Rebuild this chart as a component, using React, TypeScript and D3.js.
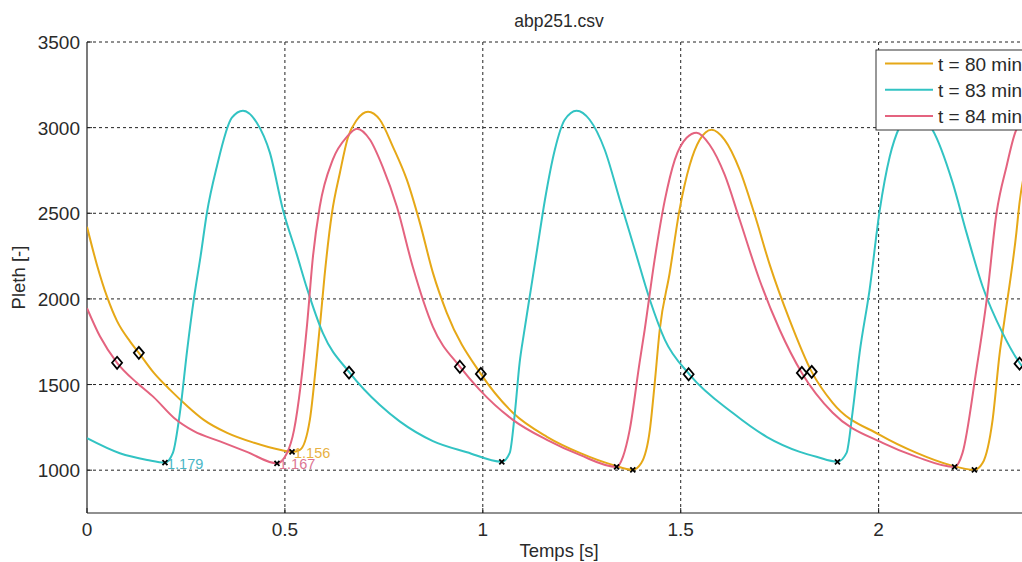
import React from 'react';
import * as d3 from 'd3';

const W = 1022;
const H = 562;
const title = 'abp251.csv';
const xLabel = 'Temps [s]';
const yLabel = 'Pleth [-]';
const xTicks = [0, 0.5, 1, 1.5, 2];
const yTicks = [1000, 1500, 2000, 2500, 3000, 3500];
const seriesNames = ['t = 80 min', 't = 83 min', 't = 84 min'];
const seriesColors = ['#e6a817', '#32c3c3', '#e4637f'];
const labelColors = ['#e8b143', '#4ab6c6', '#dd7592'];

// t = 80 min
const t80 = [0, 0.025, 0.051, 0.076, 0.109, 0.131, 0.169, 0.21, 0.253, 0.295, 0.354, 0.422, 0.487, 0.518, 0.538, 0.563, 0.578, 0.59, 0.6, 0.619, 0.639, 0.659, 0.682, 0.71, 0.74, 0.773, 0.808, 0.841, 0.874, 0.909, 0.995, 1.076, 1.162, 1.245, 1.328, 1.379, 1.4, 1.422, 1.434, 1.447, 1.472, 1.497, 1.523, 1.548, 1.578, 1.611, 1.649, 1.687, 1.725, 1.775, 1.831, 1.884, 2.003, 2.096, 2.179, 2.242, 2.263, 2.288, 2.306, 2.318, 2.348, 2.356, 2.375];
const v80 = [2421, 2200, 2010, 1870, 1751, 1685, 1568, 1469, 1375, 1294, 1218, 1160, 1119, 1107, 1119, 1294, 1600, 1880, 2130, 2503, 2737, 2941, 3046, 3093, 3046, 2888, 2696, 2444, 2152, 1919, 1562, 1335, 1195, 1101, 1031, 1002, 1040, 1234, 1500, 1820, 2150, 2520, 2783, 2929, 2988, 2929, 2754, 2491, 2199, 1878, 1574, 1393, 1206, 1101, 1031, 1002, 1043, 1294, 1685, 1878, 2386, 2561, 2800];

// t = 83 min
const t83 = [0, 0.083, 0.152, 0.197, 0.217, 0.235, 0.253, 0.27, 0.287, 0.303, 0.328, 0.366, 0.394, 0.429, 0.462, 0.495, 0.53, 0.556, 0.596, 0.664, 0.74, 0.79, 0.874, 0.96, 1.048, 1.068, 1.081, 1.093, 1.104, 1.121, 1.138, 1.157, 1.182, 1.207, 1.237, 1.27, 1.308, 1.346, 1.384, 1.422, 1.46, 1.523, 1.631, 1.717, 1.801, 1.843, 1.896, 1.919, 1.934, 1.952, 1.977, 2.003, 2.028, 2.053, 2.083, 2.136, 2.187, 2.222, 2.263, 2.313, 2.356, 2.381];
const v83 = [1187, 1099, 1060, 1044, 1101, 1340, 1700, 2000, 2250, 2503, 2772, 3058, 3099, 3029, 2854, 2521, 2260, 2060, 1800, 1568, 1380, 1285, 1170, 1105, 1049, 1101, 1335, 1627, 1800, 2050, 2300, 2579, 2871, 3046, 3099, 3046, 2871, 2579, 2287, 1995, 1761, 1557, 1335, 1195, 1107, 1078, 1049, 1101, 1335, 1685, 2050, 2521, 2830, 3005, 3093, 2988, 2679, 2387, 2071, 1802, 1627, 1557];

// t = 84 min
const t84 = [0, 0.033, 0.076, 0.126, 0.169, 0.22, 0.27, 0.336, 0.404, 0.48, 0.505, 0.523, 0.54, 0.556, 0.571, 0.588, 0.621, 0.657, 0.682, 0.715, 0.747, 0.783, 0.823, 0.874, 0.942, 0.992, 1.076, 1.162, 1.245, 1.338, 1.354, 1.371, 1.396, 1.409, 1.434, 1.46, 1.485, 1.515, 1.54, 1.573, 1.611, 1.649, 1.699, 1.75, 1.806, 1.884, 2.01, 2.096, 2.192, 2.212, 2.247, 2.273, 2.298, 2.323, 2.348, 2.37];
const v84 = [1946, 1780, 1627, 1510, 1425, 1305, 1228, 1168, 1107, 1040, 1099, 1234, 1500, 1850, 2250, 2538, 2813, 2947, 2994, 2929, 2771, 2538, 2188, 1837, 1604, 1469, 1294, 1177, 1089, 1019, 1078, 1234, 1627, 1820, 2228, 2578, 2812, 2941, 2970, 2900, 2725, 2462, 2112, 1820, 1568, 1335, 1159, 1078, 1019, 1101, 1586, 1995, 2503, 2772, 2988, 3040];

// diamond markers
const diamondT = [[0.131, 0.995, 1.831], [0.662, 1.52, 2.356], [0.076, 0.942, 1.806]];
const diamondV = [[1685, 1562, 1574], [1570, 1560, 1622], [1627, 1604, 1568]];
// foot (minimum) markers
const footT = [[0.518, 1.379, 2.242], [0.197, 1.048, 1.896], [0.48, 1.338, 2.192]];
const footV = [[1107, 1002, 1002], [1044, 1049, 1049], [1040, 1019, 1019]];
const footLabels = ['1.156', '1.179', '1.167'];

const seriesT = [t80, t83, t84];
const seriesV = [v80, v83, v84];

const FONT = '"Liberation Sans", Arial, Helvetica, sans-serif';

export default function App() {
  const left = 87, top = 42, right = 1031, bottom = 513;
  const x = d3.scaleLinear().domain([0, 2.385]).range([left, right]);
  const y = d3.scaleLinear().domain([750, 3500]).range([bottom, top]);
  const line = d3.line<[number, number]>()
    .x(d => x(d[0]))
    .y(d => y(d[1]))
    .curve(d3.curveMonotoneX);

  const drawOrder = [0, 1, 2];

  return (
    <svg width={W} height={H} style={{ position: 'absolute', left: 0, top: 0, background: '#fff' }} fontFamily={FONT}>
      <defs>
        <clipPath id="plotClip">
          <rect x={left} y={top} width={right - left} height={bottom - top} />
        </clipPath>
      </defs>
      <rect x={0} y={0} width={W} height={H} fill="#fff" />
      {/* grid */}
      {yTicks.map(v => (
        <line key={'gy' + v} x1={left} x2={right} y1={y(v)} y2={y(v)} stroke="#222" strokeWidth={1} strokeDasharray="3 3" />
      ))}
      {xTicks.filter(v => v > 0).map(v => (
        <line key={'gx' + v} x1={x(v)} x2={x(v)} y1={top} y2={bottom} stroke="#222" strokeWidth={1} strokeDasharray="3 3" />
      ))}
      {/* axes */}
      <line x1={left} x2={left} y1={top} y2={bottom} stroke="#222" strokeWidth={1.2} />
      <line x1={left} x2={right} y1={bottom} y2={bottom} stroke="#222" strokeWidth={1.2} />
      {yTicks.map(v => (
        <line key={'ty' + v} x1={left} x2={left + 5} y1={y(v)} y2={y(v)} stroke="#222" strokeWidth={1} />
      ))}
      {xTicks.map(v => (
        <line key={'tx' + v} x1={x(v)} x2={x(v)} y1={bottom} y2={bottom - 5} stroke="#222" strokeWidth={1} />
      ))}
      {/* tick labels */}
      {yTicks.map(v => (
        <text key={'ly' + v} x={left - 7} y={y(v) + 7} textAnchor="end" fontSize={19} fill="#2a2a2a">{v}</text>
      ))}
      {xTicks.map(v => (
        <text key={'lx' + v} x={x(v)} y={536} textAnchor="middle" fontSize={19} fill="#2a2a2a">{String(v)}</text>
      ))}
      <text x={(left + right) / 2} y={27} textAnchor="middle" fontSize={17.5} fill="#2a2a2a">{title}</text>
      <text x={(left + right) / 2} y={557} textAnchor="middle" fontSize={18.5} fill="#2a2a2a">{xLabel}</text>
      <text transform={`translate(25,${(top + bottom) / 2}) rotate(-90)`} textAnchor="middle" fontSize={18.5} fill="#2a2a2a">{yLabel}</text>

      {/* series */}
      <g clipPath="url(#plotClip)">
        {drawOrder.map(i => {
          const pts: [number, number][] = seriesT[i].map((t, k) => [t, seriesV[i][k]]);
          return <path key={'s' + i} d={line(pts) || ''} fill="none" stroke={seriesColors[i]} strokeWidth={2} strokeLinejoin="round" />;
        })}
        {drawOrder.map(i => diamondT[i].map((t, k) => {
          const cx = x(t), cy = y(diamondV[i][k]);
          return <path key={'d' + i + k} d={`M${cx},${cy - 6}L${cx + 5},${cy}L${cx},${cy + 6}L${cx - 5},${cy}Z`} fill="none" stroke="#000" strokeWidth={1.8} />;
        }))}
        {drawOrder.map(i => footT[i].map((t, k) => {
          const cx = x(t), cy = y(footV[i][k]);
          return <path key={'f' + i + k} d={`M${cx - 2.5},${cy - 2.5}L${cx + 2.5},${cy + 2.5}M${cx - 2.5},${cy + 2.5}L${cx + 2.5},${cy - 2.5}`} stroke="#000" strokeWidth={1.8} />;
        }))}
        {drawOrder.map(i => (
          <text key={'fl' + i} x={x(footT[i][0]) + 2} y={y(footV[i][0]) + 6} fontSize={14.5} fill={labelColors[i]}>{footLabels[i]}</text>
        ))}
      </g>

      {/* legend */}
      <rect x={876} y={50} width={200} height={80} fill="#fff" stroke="#333" strokeWidth={1} />
      {seriesNames.map((n, i) => {
        const ly = 63.5 + i * 26.3;
        return (
          <g key={'lg' + i}>
            <line x1={885} x2={933} y1={ly} y2={ly} stroke={seriesColors[i]} strokeWidth={2} />
            <text x={938} y={ly + 7} fontSize={19} fill="#2a2a2a">{n}</text>
          </g>
        );
      })}
    </svg>
  );
}
